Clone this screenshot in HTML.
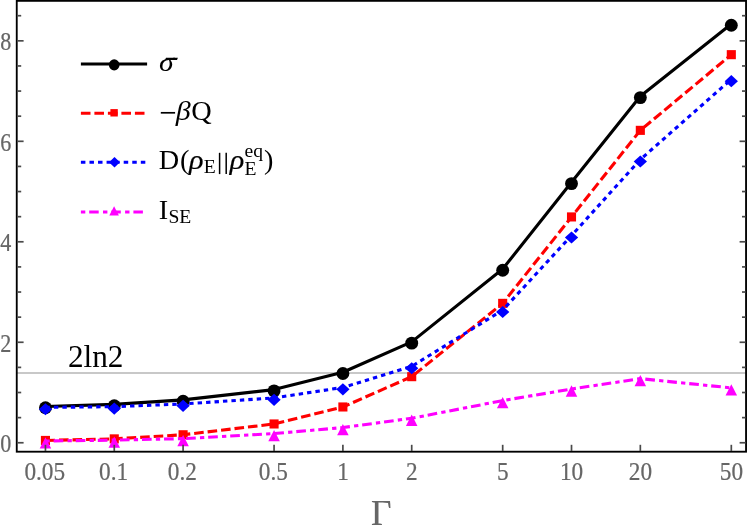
<!DOCTYPE html><html><head><meta charset="utf-8"><style>html,body{margin:0;padding:0;background:#fff}svg{display:block;will-change:transform}text{font-family:"Liberation Serif",serif}</style></head><body>
<svg width="747" height="525" viewBox="0 0 747 525">
<rect width="747" height="525" fill="#fff"/>
<line x1="17" x2="746" y1="373.0" y2="373.0" stroke="#c8c8c8" stroke-width="1.9"/>
<polyline points="45.45,406.48 114.27,404.42 183.09,399.89 274.07,389.59 342.89,372.26 411.71,341.85 502.69,268.99 571.51,182.31 640.33,96.28 731.31,23.97" fill="none" stroke="#000" stroke-width="3.1" stroke-linejoin="round"/>
<circle cx="45.45" cy="407.78" r="6.45" fill="#000"/>
<circle cx="114.27" cy="405.72" r="6.45" fill="#000"/>
<circle cx="183.09" cy="401.19" r="6.45" fill="#000"/>
<circle cx="274.07" cy="390.89" r="6.45" fill="#000"/>
<circle cx="342.89" cy="373.56" r="6.45" fill="#000"/>
<circle cx="411.71" cy="343.15" r="6.45" fill="#000"/>
<circle cx="502.69" cy="270.29" r="6.45" fill="#000"/>
<circle cx="571.51" cy="183.61" r="6.45" fill="#000"/>
<circle cx="640.33" cy="97.58" r="6.45" fill="#000"/>
<circle cx="731.31" cy="25.27" r="6.45" fill="#000"/>
<polyline points="45.45,440.44 114.27,438.88 183.09,434.76 274.07,423.96 342.89,406.97 411.71,376.67 502.69,303.36 571.51,216.93 640.33,130.35 731.31,54.67" fill="none" stroke="#f00" stroke-width="3.1" stroke-dasharray="9.6 3.94" stroke-dashoffset="0" stroke-linejoin="round"/>
<rect x="40.90" y="435.89" width="9.1" height="9.1" fill="#f00"/>
<rect x="109.72" y="434.33" width="9.1" height="9.1" fill="#f00"/>
<rect x="178.54" y="430.21" width="9.1" height="9.1" fill="#f00"/>
<rect x="269.52" y="419.41" width="9.1" height="9.1" fill="#f00"/>
<rect x="338.34" y="402.42" width="9.1" height="9.1" fill="#f00"/>
<rect x="407.16" y="372.12" width="9.1" height="9.1" fill="#f00"/>
<rect x="498.14" y="298.81" width="9.1" height="9.1" fill="#f00"/>
<rect x="566.96" y="212.38" width="9.1" height="9.1" fill="#f00"/>
<rect x="635.78" y="125.80" width="9.1" height="9.1" fill="#f00"/>
<rect x="726.76" y="50.12" width="9.1" height="9.1" fill="#f00"/>
<polyline points="45.45,407.38 114.27,406.68 183.09,403.97 274.07,397.94 342.89,387.43 411.71,366.38 502.69,310.10 571.51,235.53 640.33,159.55 731.31,79.25" fill="none" stroke="#00f" stroke-width="3.1" stroke-dasharray="4.4 4.06" stroke-dashoffset="0" stroke-linejoin="round"/>
<polygon points="38.80,409.28 45.45,403.23 52.10,409.28 45.45,415.33" fill="#00f"/>
<polygon points="107.62,408.58 114.27,402.53 120.92,408.58 114.27,414.63" fill="#00f"/>
<polygon points="176.44,405.87 183.09,399.82 189.74,405.87 183.09,411.92" fill="#00f"/>
<polygon points="267.42,399.84 274.07,393.79 280.72,399.84 274.07,405.89" fill="#00f"/>
<polygon points="336.24,389.33 342.89,383.28 349.54,389.33 342.89,395.38" fill="#00f"/>
<polygon points="405.06,368.28 411.71,362.23 418.36,368.28 411.71,374.33" fill="#00f"/>
<polygon points="496.04,312.00 502.69,305.95 509.34,312.00 502.69,318.05" fill="#00f"/>
<polygon points="564.86,237.43 571.51,231.38 578.16,237.43 571.51,243.48" fill="#00f"/>
<polygon points="633.68,161.45 640.33,155.40 646.98,161.45 640.33,167.50" fill="#00f"/>
<polygon points="724.66,81.15 731.31,75.10 737.96,81.15 731.31,87.20" fill="#00f"/>
<polyline points="45.45,440.99 114.27,440.14 183.09,438.63 274.07,433.60 342.89,427.57 411.71,418.28 502.69,400.59 571.51,389.03 640.33,378.63 731.31,387.88" fill="none" stroke="#f0f" stroke-width="3.1" stroke-dasharray="4.3 3.9 9.68 4.2" stroke-dashoffset="0" stroke-linejoin="round"/>
<polygon points="45.45,437.29 39.70,448.59 51.20,448.59" fill="#f0f"/>
<polygon points="114.27,436.44 108.52,447.74 120.02,447.74" fill="#f0f"/>
<polygon points="183.09,434.93 177.34,446.23 188.84,446.23" fill="#f0f"/>
<polygon points="274.07,429.90 268.32,441.20 279.82,441.20" fill="#f0f"/>
<polygon points="342.89,423.88 337.14,435.18 348.64,435.18" fill="#f0f"/>
<polygon points="411.71,414.58 405.96,425.88 417.46,425.88" fill="#f0f"/>
<polygon points="502.69,396.89 496.94,408.19 508.44,408.19" fill="#f0f"/>
<polygon points="571.51,385.33 565.76,396.63 577.26,396.63" fill="#f0f"/>
<polygon points="640.33,374.93 634.58,386.23 646.08,386.23" fill="#f0f"/>
<polygon points="731.31,384.18 725.56,395.48 737.06,395.48" fill="#f0f"/>
<rect x="16.75" y="0.85" width="729.3" height="450.85" fill="none" stroke="#000" stroke-width="1.85"/>
<line x1="45.45" x2="45.45" y1="444.8" y2="451" stroke="#4a4a4a" stroke-width="1.7"/>
<line x1="114.27" x2="114.27" y1="444.8" y2="451" stroke="#4a4a4a" stroke-width="1.7"/>
<line x1="183.09" x2="183.09" y1="444.8" y2="451" stroke="#4a4a4a" stroke-width="1.7"/>
<line x1="274.07" x2="274.07" y1="444.8" y2="451" stroke="#4a4a4a" stroke-width="1.7"/>
<line x1="342.89" x2="342.89" y1="444.8" y2="451" stroke="#4a4a4a" stroke-width="1.7"/>
<line x1="411.71" x2="411.71" y1="444.8" y2="451" stroke="#4a4a4a" stroke-width="1.7"/>
<line x1="502.69" x2="502.69" y1="444.8" y2="451" stroke="#4a4a4a" stroke-width="1.7"/>
<line x1="571.51" x2="571.51" y1="444.8" y2="451" stroke="#4a4a4a" stroke-width="1.7"/>
<line x1="640.33" x2="640.33" y1="444.8" y2="451" stroke="#4a4a4a" stroke-width="1.7"/>
<line x1="731.31" x2="731.31" y1="444.8" y2="451" stroke="#4a4a4a" stroke-width="1.7"/>
<line x1="17.6" x2="23.60" y1="442.75" y2="442.75" stroke="#4a4a4a" stroke-width="1.7"/>
<line x1="739.60" x2="745.6" y1="442.75" y2="442.75" stroke="#4a4a4a" stroke-width="1.7"/>
<line x1="17.6" x2="21.20" y1="417.63" y2="417.63" stroke="#4a4a4a" stroke-width="1.7"/>
<line x1="742.00" x2="745.6" y1="417.63" y2="417.63" stroke="#4a4a4a" stroke-width="1.7"/>
<line x1="17.6" x2="21.20" y1="392.51" y2="392.51" stroke="#4a4a4a" stroke-width="1.7"/>
<line x1="742.00" x2="745.6" y1="392.51" y2="392.51" stroke="#4a4a4a" stroke-width="1.7"/>
<line x1="17.6" x2="21.20" y1="367.39" y2="367.39" stroke="#4a4a4a" stroke-width="1.7"/>
<line x1="742.00" x2="745.6" y1="367.39" y2="367.39" stroke="#4a4a4a" stroke-width="1.7"/>
<line x1="17.6" x2="23.60" y1="342.27" y2="342.27" stroke="#4a4a4a" stroke-width="1.7"/>
<line x1="739.60" x2="745.6" y1="342.27" y2="342.27" stroke="#4a4a4a" stroke-width="1.7"/>
<line x1="17.6" x2="21.20" y1="317.15" y2="317.15" stroke="#4a4a4a" stroke-width="1.7"/>
<line x1="742.00" x2="745.6" y1="317.15" y2="317.15" stroke="#4a4a4a" stroke-width="1.7"/>
<line x1="17.6" x2="21.20" y1="292.03" y2="292.03" stroke="#4a4a4a" stroke-width="1.7"/>
<line x1="742.00" x2="745.6" y1="292.03" y2="292.03" stroke="#4a4a4a" stroke-width="1.7"/>
<line x1="17.6" x2="21.20" y1="266.91" y2="266.91" stroke="#4a4a4a" stroke-width="1.7"/>
<line x1="742.00" x2="745.6" y1="266.91" y2="266.91" stroke="#4a4a4a" stroke-width="1.7"/>
<line x1="17.6" x2="23.60" y1="241.79" y2="241.79" stroke="#4a4a4a" stroke-width="1.7"/>
<line x1="739.60" x2="745.6" y1="241.79" y2="241.79" stroke="#4a4a4a" stroke-width="1.7"/>
<line x1="17.6" x2="21.20" y1="216.67" y2="216.67" stroke="#4a4a4a" stroke-width="1.7"/>
<line x1="742.00" x2="745.6" y1="216.67" y2="216.67" stroke="#4a4a4a" stroke-width="1.7"/>
<line x1="17.6" x2="21.20" y1="191.55" y2="191.55" stroke="#4a4a4a" stroke-width="1.7"/>
<line x1="742.00" x2="745.6" y1="191.55" y2="191.55" stroke="#4a4a4a" stroke-width="1.7"/>
<line x1="17.6" x2="21.20" y1="166.43" y2="166.43" stroke="#4a4a4a" stroke-width="1.7"/>
<line x1="742.00" x2="745.6" y1="166.43" y2="166.43" stroke="#4a4a4a" stroke-width="1.7"/>
<line x1="17.6" x2="23.60" y1="141.31" y2="141.31" stroke="#4a4a4a" stroke-width="1.7"/>
<line x1="739.60" x2="745.6" y1="141.31" y2="141.31" stroke="#4a4a4a" stroke-width="1.7"/>
<line x1="17.6" x2="21.20" y1="116.19" y2="116.19" stroke="#4a4a4a" stroke-width="1.7"/>
<line x1="742.00" x2="745.6" y1="116.19" y2="116.19" stroke="#4a4a4a" stroke-width="1.7"/>
<line x1="17.6" x2="21.20" y1="91.07" y2="91.07" stroke="#4a4a4a" stroke-width="1.7"/>
<line x1="742.00" x2="745.6" y1="91.07" y2="91.07" stroke="#4a4a4a" stroke-width="1.7"/>
<line x1="17.6" x2="21.20" y1="65.95" y2="65.95" stroke="#4a4a4a" stroke-width="1.7"/>
<line x1="742.00" x2="745.6" y1="65.95" y2="65.95" stroke="#4a4a4a" stroke-width="1.7"/>
<line x1="17.6" x2="23.60" y1="40.83" y2="40.83" stroke="#4a4a4a" stroke-width="1.7"/>
<line x1="739.60" x2="745.6" y1="40.83" y2="40.83" stroke="#4a4a4a" stroke-width="1.7"/>
<line x1="17.6" x2="21.20" y1="15.71" y2="15.71" stroke="#4a4a4a" stroke-width="1.7"/>
<line x1="742.00" x2="745.6" y1="15.71" y2="15.71" stroke="#4a4a4a" stroke-width="1.7"/>
<text transform="translate(11.2,452.15) scale(0.97,1.14)" font-size="22.8" fill="#666" stroke="#666" stroke-width="0.2" text-anchor="end">0</text>
<text transform="translate(11.2,351.67) scale(0.97,1.14)" font-size="22.8" fill="#666" stroke="#666" stroke-width="0.2" text-anchor="end">2</text>
<text transform="translate(11.2,251.19) scale(0.97,1.14)" font-size="22.8" fill="#666" stroke="#666" stroke-width="0.2" text-anchor="end">4</text>
<text transform="translate(11.2,150.71) scale(0.97,1.14)" font-size="22.8" fill="#666" stroke="#666" stroke-width="0.2" text-anchor="end">6</text>
<text transform="translate(11.2,50.23) scale(0.97,1.14)" font-size="22.8" fill="#666" stroke="#666" stroke-width="0.2" text-anchor="end">8</text>
<text transform="translate(44.75,479.9) scale(1.02,1.14)" font-size="22.8" fill="#666" stroke="#666" stroke-width="0.2" text-anchor="middle">0.05</text>
<text transform="translate(113.57,479.9) scale(1.02,1.14)" font-size="22.8" fill="#666" stroke="#666" stroke-width="0.2" text-anchor="middle">0.1</text>
<text transform="translate(182.39,479.9) scale(1.02,1.14)" font-size="22.8" fill="#666" stroke="#666" stroke-width="0.2" text-anchor="middle">0.2</text>
<text transform="translate(273.37,479.9) scale(1.02,1.14)" font-size="22.8" fill="#666" stroke="#666" stroke-width="0.2" text-anchor="middle">0.5</text>
<text transform="translate(342.99,479.9) scale(1.02,1.14)" font-size="22.8" fill="#666" stroke="#666" stroke-width="0.2" text-anchor="middle">1</text>
<text transform="translate(411.81,479.9) scale(1.02,1.14)" font-size="22.8" fill="#666" stroke="#666" stroke-width="0.2" text-anchor="middle">2</text>
<text transform="translate(502.79,479.9) scale(1.02,1.14)" font-size="22.8" fill="#666" stroke="#666" stroke-width="0.2" text-anchor="middle">5</text>
<text transform="translate(571.61,479.9) scale(1.02,1.14)" font-size="22.8" fill="#666" stroke="#666" stroke-width="0.2" text-anchor="middle">10</text>
<text transform="translate(640.43,479.9) scale(1.02,1.14)" font-size="22.8" fill="#666" stroke="#666" stroke-width="0.2" text-anchor="middle">20</text>
<text transform="translate(731.41,479.9) scale(1.02,1.14)" font-size="22.8" fill="#666" stroke="#666" stroke-width="0.2" text-anchor="middle">50</text>
<text x="381.2" y="525.2" font-size="35.3" fill="#666" stroke="#666" stroke-width="0.2" text-anchor="middle">Γ</text>
<text transform="translate(68.0,366.8) scale(1,1.025)" font-size="31.2" fill="#000">2ln2</text>
<line x1="80.9" x2="147.1" y1="63.9" y2="63.9" stroke="#000" stroke-width="3.0"/><ellipse cx="114.2" cy="64.9" rx="5.3" ry="5.6" fill="#000"/>
<line x1="80.9" x2="147.1" y1="113.3" y2="113.3" stroke="#f00" stroke-width="3.0" stroke-dasharray="9.6 3.9"/><rect x="110.4" y="109.1" width="7.4" height="7.4" fill="#f00"/>
<line x1="80.9" x2="147.1" y1="162.3" y2="162.3" stroke="#00f" stroke-width="3.0" stroke-dasharray="4.5 4.06"/><polygon points="109.05,162.3 114.5,157.1 119.95,162.3 114.5,167.5" fill="#00f"/>
<line x1="80.9" x2="147.1" y1="212.0" y2="212.0" stroke="#f0f" stroke-width="3.0" stroke-dasharray="4.4 3.9 9.5 4.3"/><polygon points="114.1,206.3 109.3,215.4 118.9,215.4" fill="#f0f"/>
<text transform="translate(158.9,70.6) scale(1.05,0.92)" font-size="28.3" font-style="italic">σ</text>
<polygon points="166,57.7 177.9,57.7 177.0,60.1 165,60.1" fill="#000"/>
<line x1="160.8" x2="175.1" y1="112.8" y2="112.8" stroke="#000" stroke-width="1.7"/>
<text transform="translate(175.8,119.8) scale(1.06,1)" font-size="28.3" font-style="italic">β</text>
<text x="191.2" y="119.8" font-size="28.3">Q</text>
<text x="158.7" y="169.2" font-size="28.3">D</text>
<text x="179.9" y="169.2" font-size="28.3">(</text>
<text transform="translate(189.0,169.2) scale(1.07,1)" font-size="28.3" font-style="italic" stroke="#000" stroke-width="0.18">ρ</text>
<text x="203.7" y="173.4" font-size="19.6">E</text>
<line x1="219.6" x2="219.6" y1="152.8" y2="174.1" stroke="#000" stroke-width="1.5"/><line x1="226.2" x2="226.2" y1="152.8" y2="174.1" stroke="#000" stroke-width="1.5"/>
<text transform="translate(229.8,169.2) scale(1.07,1)" font-size="28.3" font-style="italic" stroke="#000" stroke-width="0.18">ρ</text>
<text x="244.4" y="174.9" font-size="19.6">E</text>
<text x="244.6" y="157.2" font-size="19.6">eq</text>
<text x="264" y="169.2" font-size="28.3">)</text>
<text x="158.8" y="218.6" font-size="28.3">I</text>
<text x="168.4" y="222.8" font-size="19.6">SE</text>
</svg></body></html>
